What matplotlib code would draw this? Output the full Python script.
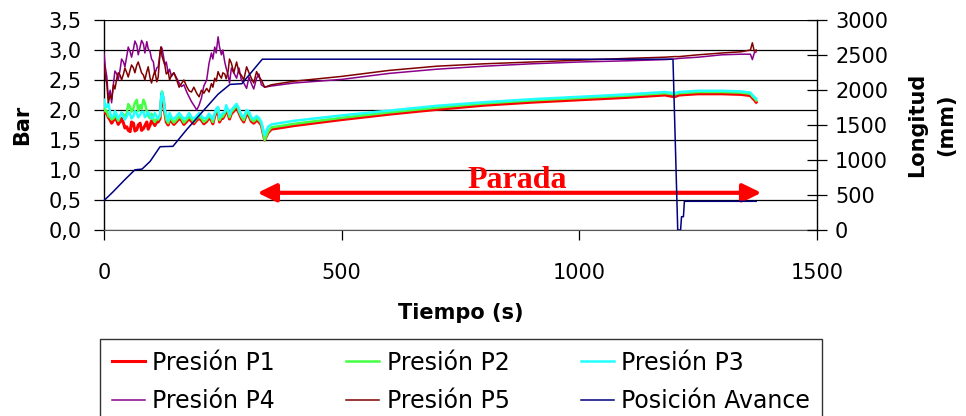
import matplotlib
matplotlib.use("Agg")
import matplotlib.pyplot as plt
from matplotlib.ticker import FuncFormatter
from matplotlib.lines import Line2D

# --- time axis (s) for the pressure records ---
t_start = [0, 3, 6, 9, 13, 16, 20, 23, 27, 30, 34, 37, 41, 44, 48, 51, 55, 58, 62,
           65, 69, 72, 76, 79, 83, 86, 90, 93, 97, 100, 104, 107, 111, 114, 118,
           120, 122, 125, 128, 131, 135, 138, 142, 147, 153, 158, 163, 168, 174,
           179, 184, 189, 195, 200, 205, 210, 216, 221, 226, 229, 233, 236, 240,
           243, 247, 250, 254, 257, 261, 264, 268, 273, 279, 284, 289, 294, 300,
           305, 310, 315, 321, 326, 331]
t_stop = [338, 345, 352, 400, 500, 600, 700, 800, 900, 1000, 1100, 1180, 1200,
          1210, 1250, 1300, 1340, 1360, 1364, 1368, 1372]

# --- pressures (bar) during advance ---
p1_start = [2.05, 1.95, 1.94, 1.88, 1.83, 1.78, 1.83, 1.88, 1.82, 1.76,
            1.81, 1.86, 1.78, 1.70, 1.72, 1.66, 1.64, 1.80, 1.78, 1.65,
            1.67, 1.75, 1.78, 1.66, 1.69, 1.74, 1.80, 1.68, 1.75, 1.82,
            1.78, 1.74, 1.81, 1.80, 1.86, 2.10, 2.28, 2.15, 1.95, 1.80,
            1.75, 1.85, 1.81, 1.76, 1.81, 1.86, 1.83, 1.76, 1.81, 1.86,
            1.81, 1.77, 1.83, 1.86, 1.83, 1.77, 1.81, 1.87, 1.83, 1.77,
            1.90, 1.95, 2.00, 1.80, 1.86, 1.86, 1.92, 2.00, 1.94, 1.85,
            1.94, 1.98, 2.06, 1.95, 1.86, 1.80, 1.94, 1.90, 1.81, 1.78,
            1.83, 1.80, 1.75]
p2_start = [2.10, 1.98, 1.98, 1.90, 1.88, 1.84, 1.86, 1.92, 1.87, 1.82,
            1.90, 1.95, 1.92, 1.86, 1.95, 2.10, 2.05, 1.97, 2.03, 2.12,
            2.17, 1.98, 2.08, 2.02, 2.17, 2.12, 1.97, 1.90, 1.86, 1.94,
            1.84, 1.80, 1.86, 1.84, 1.90, 2.15, 2.31, 2.18, 1.98, 1.84,
            1.78, 1.88, 1.84, 1.79, 1.84, 1.89, 1.86, 1.79, 1.84, 1.89,
            1.85, 1.80, 1.86, 1.89, 1.86, 1.80, 1.84, 1.90, 1.86, 1.80,
            1.93, 1.98, 2.03, 1.83, 1.89, 1.89, 1.95, 2.03, 1.97, 1.88,
            1.97, 2.01, 2.09, 1.98, 1.89, 1.83, 1.97, 1.93, 1.84, 1.81,
            1.86, 1.83, 1.78]
p3_start = [2.17, 2.05, 2.05, 2.12, 1.95, 1.88, 1.90, 1.98, 1.92, 1.86,
            1.90, 1.96, 1.88, 1.84, 1.90, 1.96, 1.93, 1.86, 1.90, 1.98,
            1.95, 1.88, 1.92, 1.97, 1.97, 1.88, 1.93, 1.97, 1.90, 1.86,
            1.88, 1.95, 1.89, 1.86, 1.92, 2.20, 2.30, 2.22, 2.00, 1.92,
            1.82, 1.95, 1.88, 1.85, 1.90, 1.95, 1.90, 1.85, 1.88, 1.95,
            1.88, 1.86, 1.90, 1.95, 1.90, 1.86, 1.87, 1.94, 1.88, 1.85,
            1.95, 2.02, 2.05, 1.88, 1.92, 1.95, 1.97, 2.08, 2.00, 1.93,
            2.00, 2.05, 2.10, 2.02, 1.92, 1.88, 2.00, 1.97, 1.88, 1.85,
            1.90, 1.87, 1.80]
p4_start = [2.95, 2.70, 2.55, 2.20, 2.33, 2.12, 2.45, 2.65, 2.60, 2.50,
            2.68, 2.85, 2.80, 2.72, 2.90, 3.05, 2.97, 2.88, 3.02, 3.15,
            3.08, 2.92, 3.05, 3.16, 3.10, 2.95, 3.14, 3.02, 2.97, 2.85,
            2.80, 2.60, 2.70, 2.72, 2.95, 3.05, 3.03, 2.90, 2.75, 2.80,
            2.62, 2.68, 2.56, 2.62, 2.53, 2.45, 2.39, 2.42, 2.30, 2.22,
            2.14, 2.08, 2.00, 2.08, 2.20, 2.40, 2.50, 2.78, 2.95, 2.85,
            3.05, 2.95, 3.22, 3.05, 2.92, 3.00, 2.80, 2.70, 2.58, 2.45,
            2.70, 2.62, 2.53, 2.70, 2.50, 2.45, 2.36, 2.55, 2.44, 2.35,
            2.53, 2.60, 2.42]
p5_start = [2.75, 2.55, 2.44, 2.12, 2.25, 2.18, 2.42, 2.35, 2.53, 2.62,
            2.58, 2.50, 2.60, 2.70, 2.62, 2.55, 2.67, 2.75, 2.70, 2.62,
            2.75, 2.80, 2.70, 2.62, 2.58, 2.50, 2.64, 2.72, 2.53, 2.45,
            2.58, 2.65, 2.47, 2.55, 2.97, 3.05, 2.90, 2.82, 2.75, 2.60,
            2.64, 2.50, 2.58, 2.62, 2.50, 2.38, 2.44, 2.50, 2.39, 2.32,
            2.30, 2.38, 2.28, 2.22, 2.33, 2.28, 2.36, 2.30, 2.44, 2.38,
            2.53, 2.48, 2.64, 2.58, 2.53, 2.62, 2.60, 2.52, 2.64, 2.85,
            2.78, 2.62, 2.80, 2.62, 2.58, 2.50, 2.72, 2.62, 2.53, 2.45,
            2.64, 2.55, 2.50]

# --- pressures (bar) during the stop ---
p1_stop = [1.50, 1.62, 1.68, 1.74, 1.84, 1.93, 2.01, 2.08, 2.13, 2.17, 2.21, 2.25,
           2.22, 2.25, 2.27, 2.27, 2.26, 2.24, 2.20, 2.17, 2.13]
p2_stop = [1.50, 1.64, 1.71, 1.77, 1.87, 1.96, 2.04, 2.11, 2.16, 2.20, 2.24, 2.28,
           2.26, 2.28, 2.30, 2.30, 2.29, 2.27, 2.23, 2.20, 2.16]
p3_stop = [1.58, 1.72, 1.76, 1.82, 1.91, 1.99, 2.07, 2.13, 2.18, 2.22, 2.26, 2.30,
           2.28, 2.30, 2.32, 2.32, 2.31, 2.29, 2.25, 2.22, 2.19]
p4_stop = [2.38, 2.39, 2.40, 2.45, 2.51, 2.61, 2.68, 2.73, 2.77, 2.80, 2.82, 2.84,
           2.85, 2.86, 2.88, 2.92, 2.93, 2.93, 2.84, 2.95, 2.97]
p5_stop = [2.38, 2.40, 2.42, 2.48, 2.56, 2.66, 2.73, 2.77, 2.80, 2.83, 2.86, 2.88,
           2.89, 2.89, 2.92, 2.95, 2.97, 3.00, 3.12, 2.98, 3.00]

# --- advance position (mm) ---
t_avance = [0, 19, 44, 65, 80, 97, 118, 145, 174, 202, 240, 265, 290, 333,
            1197, 1207, 1213, 1215, 1219, 1221, 1372]
avance = [420, 545, 720, 860, 870, 980, 1190, 1195, 1435, 1650, 1940, 2080, 2090,
          2440, 2440, 0, 0, 190, 190, 410, 410]

series_labels = ["Presión P1", "Presión P2", "Presión P3",
                 "Presión P4", "Presión P5", "Posición Avance"]
series_colors = ["#ff0000", "#44ff44", "#22ffff", "#8a008a", "#800000", "#000080"]
series_widths = [2.2, 1.8, 1.8, 1.1, 1.1, 1.1]

bar_ticks = [0, 0.5, 1.0, 1.5, 2.0, 2.5, 3.0, 3.5]
mm_ticks = [0, 500, 1000, 1500, 2000, 2500, 3000]
x_ticks = [0, 500, 1000, 1500]

plt.rcParams["font.family"] = ["DejaVu Sans"]
FS = 15

fig = plt.figure(figsize=(9.66, 4.16), dpi=100)
ax = fig.add_axes([104 / 966, 1 - 230 / 416, 713 / 966, 210 / 416])

t_p = t_start + t_stop
pressures = [p1_start + p1_stop, p2_start + p2_stop, p3_start + p3_stop,
             p4_start + p4_stop, p5_start + p5_stop]
for vals, col, lw in zip(pressures, series_colors[:5], series_widths[:5]):
    ax.plot(t_p, vals, color=col, lw=lw, zorder=3)

ax.set_xlim(0, 1500)
ax.set_ylim(0, 3.5)
ax.set_xticks(x_ticks)
ax.set_yticks(bar_ticks)
ax.yaxis.set_major_formatter(FuncFormatter(lambda v, p: f"{v:.1f}".replace(".", ",")))
ax.yaxis.grid(True, color="black", lw=0.9)
ax.set_axisbelow(True)
for s in ["top", "right"]:
    ax.spines[s].set_visible(False)
ax.spines["left"].set_linewidth(1.0)
ax.spines["bottom"].set_color("#555555")
ax.tick_params(axis="y", direction="out", length=7, width=0.9, pad=9, labelsize=FS)
ax.tick_params(axis="x", direction="out", length=7, width=0.9, pad=17, labelsize=FS)
ax.set_ylabel("Bar", fontsize=FS, fontweight="bold", labelpad=12)
ax.set_xlabel("Tiempo (s)", fontsize=FS, fontweight="bold", labelpad=14)

ax2 = ax.twinx()
ax2.plot(t_avance, avance, color=series_colors[5], lw=series_widths[5], zorder=4)
ax2.set_ylim(0, 3000)
ax2.set_yticks(mm_ticks)
for s in ["top", "left", "bottom"]:
    ax2.spines[s].set_visible(False)
ax2.spines["right"].set_linewidth(1.0)
ax2.tick_params(axis="y", direction="inout", length=14, width=0.9, pad=6, labelsize=FS)
ax2.set_ylabel("Longitud\n(mm)", fontsize=FS, fontweight="bold", labelpad=14,
               linespacing=1.55)

# stop interval marker
ax.annotate("", xy=(323, 0.62), xytext=(1383, 0.62), xycoords="data",
            arrowprops=dict(arrowstyle="<|-|>,head_length=0.45,head_width=0.22",
                            color="#ff0000", lw=3, mutation_scale=25,
                            shrinkA=0, shrinkB=0), annotation_clip=False, zorder=5)
ax.text(870, 0.70, "Parada", ha="center", va="baseline", color="#ff0000",
        fontsize=23, fontweight="bold", family=["Liberation Serif", "DejaVu Serif"],
        zorder=5)

# legend filled row by row (P1 P2 P3 / P4 P5 Avance)
handles = [Line2D([], [], color=c, lw=w) for c, w in zip(series_colors, series_widths)]
order = [0, 3, 1, 4, 2, 5]
leg = fig.legend([handles[i] for i in order], [series_labels[i] for i in order],
                 ncol=3, loc="upper left",
                 bbox_to_anchor=(100 / 966, 1 - 343 / 416, 722 / 966, 0.01),
                 mode="expand", fontsize=17, frameon=True, fancybox=False,
                 edgecolor="black", borderpad=0.5, labelspacing=0.6,
                 handlelength=1.4, handletextpad=0.3, borderaxespad=0)
leg.get_frame().set_linewidth(1.0)

fig.savefig("out.png", dpi=100)
